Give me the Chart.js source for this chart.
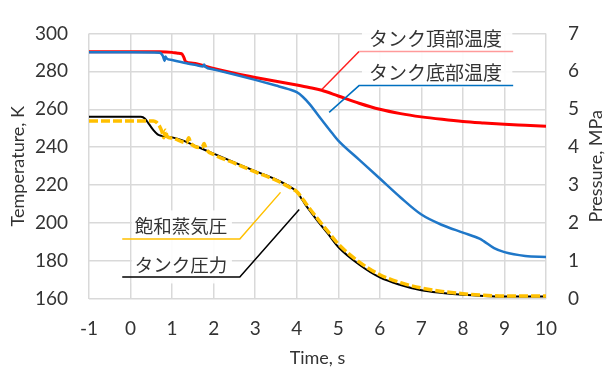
<!DOCTYPE html>
<html><head><meta charset="utf-8">
<script src="https://cdn.jsdelivr.net/npm/chart.js@4/dist/chart.umd.min.js"></script>
<style>html,body{margin:0;padding:0;background:#fff;}canvas{display:block;}</style>
</head><body>
<canvas id="c" width="606" height="367"></canvas>
<script>
// Time axis ticks (s)
const timeTicks = [-1, 0, 1, 2, 3, 4, 5, 6, 7, 8, 9, 10];

// Tank top temperature (K)
const topTime = [-1, 0, 0.7, 1.0, 1.14, 1.23, 1.28, 1.33, 1.5, 2.0, 2.5, 3.0, 3.5, 4.0, 4.3, 4.6, 5.0, 5.5, 6.0, 6.5, 7.0, 7.5, 8.0, 8.5, 9.0, 9.5, 10];
const topTemp = [290.3, 290.3, 290.3, 290.0, 289.5, 289.3, 287.5, 285.0, 284.3, 281.5, 279.0, 276.8, 274.8, 272.8, 271.5, 270.0, 267.0, 263.2, 260.0, 257.7, 256.0, 254.7, 253.6, 252.8, 252.1, 251.6, 251.1];

// Tank bottom temperature (K)
const botTime = [-1, 0, 0.7, 0.78, 0.82, 0.84, 0.87, 1.0, 1.35, 1.6, 1.74, 1.77, 1.8, 2.0, 2.5, 3.0, 3.5, 3.8, 4.0, 4.15, 4.3, 4.6, 4.85, 5.0, 5.5, 6.0, 6.5, 7.0, 7.5, 8.0, 8.4, 8.5, 8.75, 9.0, 9.5, 10];
const botTemp = [290.0, 290.0, 289.8, 288.0, 285.5, 287.8, 286.8, 286.0, 284.3, 283.2, 282.6, 283.6, 282.4, 281.0, 278.3, 275.5, 272.5, 270.6, 269.0, 266.5, 263.0, 254.5, 247.5, 243.5, 233.5, 223.5, 213.5, 204.5, 199.0, 195.0, 191.8, 190.5, 186.8, 184.7, 182.7, 182.2];

// Tank pressure (MPa)
const tankTime = [-1, 0, 0.25, 0.35, 0.45, 0.55, 0.65, 0.75, 1.0, 1.25, 1.5, 2.0, 2.5, 3.0, 3.5, 3.88, 4.0, 4.1, 4.2, 4.3, 4.5, 4.75, 5.0, 5.5, 6.0, 6.5, 7.0, 7.5, 8.0, 8.5, 9.0, 10];
const tankPres = [4.8, 4.8, 4.8, 4.75, 4.6, 4.45, 4.34, 4.3, 4.26, 4.18, 4.06, 3.83, 3.6, 3.37, 3.15, 2.93, 2.83, 2.67, 2.5, 2.35, 2.06, 1.72, 1.37, 0.91, 0.57, 0.37, 0.23, 0.16, 0.11, 0.08, 0.065, 0.065];

// Saturation vapour pressure (MPa)
const satTime = [-1, 0, 0.55, 0.62, 0.7, 0.76, 0.8, 0.84, 0.88, 1.0, 1.35, 1.4, 1.45, 1.72, 1.77, 1.82, 2.0, 2.5, 3.0, 3.5, 3.88, 4.0, 4.1, 4.2, 4.3, 4.5, 4.75, 5.0, 5.5, 6.0, 6.5, 7.0, 7.5, 8.0, 8.5, 9.0, 9.5, 10];
const satPres = [4.69, 4.69, 4.69, 4.66, 4.55, 4.4, 4.25, 4.45, 4.28, 4.24, 4.12, 4.25, 4.1, 3.99, 4.1, 3.95, 3.81, 3.58, 3.35, 3.13, 2.91, 2.83, 2.7, 2.55, 2.4, 2.12, 1.78, 1.45, 0.98, 0.64, 0.43, 0.29, 0.2, 0.14, 0.1, 0.08, 0.08, 0.08];

// Series names drawn as callouts
const nameTop = 'タンク頂部温度';
const nameBot = 'タンク底部温度';
const nameSat = '飽和蒸気圧';
const nameTank = 'タンク圧力';

const pts = (xs, ys) => xs.map((x, i) => ({x, y: ys[i]}));
const NUM_FONT = 'Lato, "Liberation Sans", sans-serif';
const JP_FONT = '"Noto Sans CJK JP", sans-serif';
const TXT = '#333333';

const calloutPlugin = {
  id: 'callouts',
  beforeDatasetsDraw(chart) {
    const {ctx, scales} = chart;
    const px = v => scales.x.getPixelForValue(v);
    const py = v => scales.y.getPixelForValue(v);
    ctx.save();
    ctx.fillStyle = 'rgba(255,255,255,0.92)';
    // label backgrounds (upper right and lower left)
    ctx.fillRect(px(5.57), py(305), px(9.19) - px(5.57), py(271.5) - py(305));
    ctx.fillRect(px(0.03), py(206.7), px(2.44) - px(0.03), py(168.2) - py(206.7));
    ctx.restore();
  },
  afterDatasetsDraw(chart) {
    const {ctx, scales} = chart;
    const px = v => scales.x.getPixelForValue(v);
    const py = v => scales.y.getPixelForValue(v);
    const pp = v => scales.y2.getPixelForValue(v);
    ctx.save();
    const leader = (color, w, a) => {
      ctx.strokeStyle = color; ctx.lineWidth = w;
      ctx.beginPath(); ctx.moveTo(a[0][0], a[0][1]);
      for (let i = 1; i < a.length; i++) ctx.lineTo(a[i][0], a[i][1]);
      ctx.stroke();
    };
    // leader lines
    leader('#FF2020', 1.5, [[px(4.61), py(270.6)], [px(5.5), py(290.5)]]);
    leader('#FF9A9A', 1.5, [[px(5.5), py(290.5)], [px(9.21), py(290.5)]]);
    leader('#0070C0', 1.5, [[px(4.78), py(258.4)], [px(5.5), py(272.5)], [px(9.21), py(272.5)]]);
    leader('#FFC000', 1.5, [[px(-0.2), pp(1.58)], [px(2.63), pp(1.58)], [px(3.61), pp(2.81)]]);
    leader('#000000', 1.5, [[px(-0.2), pp(0.58)], [px(2.63), pp(0.58)], [px(4.06), pp(2.36)]]);
    // callout texts
    ctx.fillStyle = TXT;
    ctx.textBaseline = 'middle';
    ctx.textAlign = 'left';
    ctx.font = '19px ' + JP_FONT;
    ctx.fillText(nameTop, px(5.74), py(296.9));
    ctx.fillText(nameBot, px(5.74), py(279.0));
    ctx.font = '18.5px ' + JP_FONT;
    ctx.fillText(nameSat, px(0.1), pp(1.92));
    ctx.fillText(nameTank, px(0.1), pp(0.9));
    // axis titles
    const ca = chart.chartArea;
    const cy = (ca.top + ca.bottom) / 2;
    ctx.font = '18px ' + NUM_FONT;
    ctx.textAlign = 'center';
    ctx.fillText('Time, s', (ca.left + ca.right) / 2, 358);
    ctx.save();
    ctx.translate(18, cy); ctx.rotate(-Math.PI / 2);
    ctx.fillText('Temperature, K', 0, 0);
    ctx.restore();
    ctx.save();
    ctx.translate(596, cy); ctx.rotate(-Math.PI / 2);
    ctx.fillText('Pressure, MPa', 0, 0);
    ctx.restore();
    ctx.restore();
  }
};

new Chart(document.getElementById('c'), {
  type: 'line',
  data: {
    datasets: [
      {label: nameSat, data: pts(satTime, satPres), yAxisID: 'y2', borderColor: '#FFC000', borderWidth: 3.5, borderDash: [9, 3], pointRadius: 0, tension: 0.3, cubicInterpolationMode: 'monotone'},
      {label: nameTank, data: pts(tankTime, tankPres), yAxisID: 'y2', borderColor: '#000000', borderWidth: 2, pointRadius: 0, cubicInterpolationMode: 'monotone'},
      {label: nameBot, data: pts(botTime, botTemp), yAxisID: 'y', borderColor: '#1F77C8', borderWidth: 2.5, pointRadius: 0, cubicInterpolationMode: 'monotone'},
      {label: nameTop, data: pts(topTime, topTemp), yAxisID: 'y', borderColor: '#FF0000', borderWidth: 3, pointRadius: 0, cubicInterpolationMode: 'monotone'}
    ]
  },
  options: {
    responsive: false,
    animation: false,
    devicePixelRatio: 1,
    layout: {padding: {top: 23, left: 0, right: 0, bottom: 0}},
    plugins: {legend: {display: false}, tooltip: {enabled: false}},
    scales: {
      x: {
        type: 'linear', min: -1, max: 10,
        afterBuildTicks: s => { s.ticks = timeTicks.map(v => ({value: v})); },
        afterFit: s => { s.height = 68; },
        grid: {color: '#D9D9D9', lineWidth: 1.5, drawTicks: false},
        border: {display: false},
        ticks: {color: TXT, font: {family: NUM_FONT, size: 19}, padding: 18, maxRotation: 0}
      },
      y: {
        position: 'left', min: 160, max: 300,
        afterFit: s => { s.width = 89; },
        grid: {color: '#D9D9D9', lineWidth: 1.5, drawTicks: false},
        border: {display: false},
        ticks: {stepSize: 20, color: TXT, font: {family: NUM_FONT, size: 19}, padding: 21}
      },
      y2: {
        position: 'right', min: 0, max: 7,
        afterFit: s => { s.width = 60; },
        grid: {drawOnChartArea: false, drawTicks: false},
        border: {display: false},
        ticks: {stepSize: 1, color: TXT, font: {family: NUM_FONT, size: 19}, padding: 22}
      }
    }
  },
  plugins: [calloutPlugin]
});
</script>
</body></html>
